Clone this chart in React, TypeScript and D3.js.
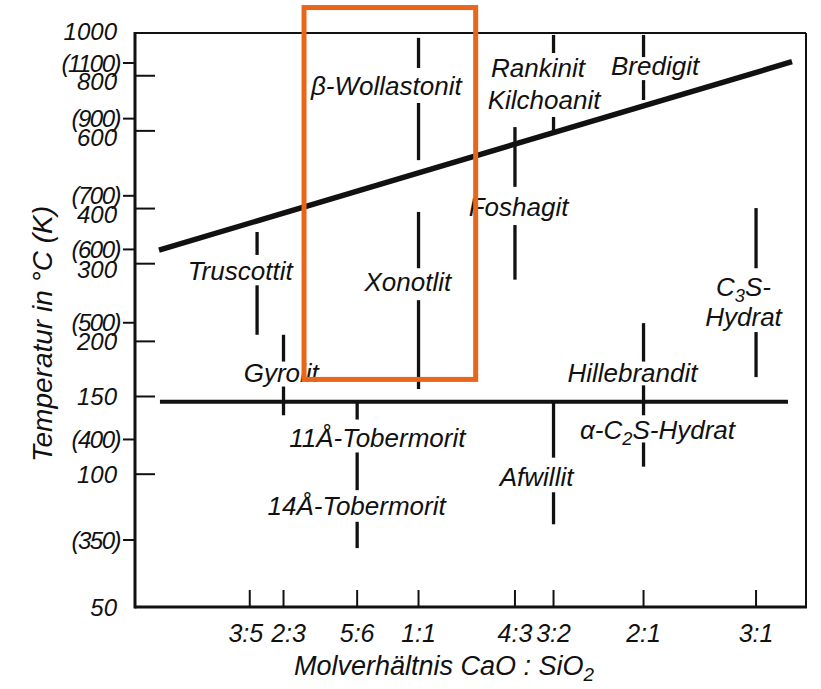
import React from 'react';
import * as d3 from 'd3';

// ---------- data ----------
const celsiusTicks = [1000, 800, 600, 400, 300, 200, 150, 100, 50];
const kelvinTicks = [1100, 900, 700, 600, 500, 400, 350];
const ratioLabels = ['3:5', '2:3', '5:6', '1:1', '4:3', '3:2', '2:1', '3:1'];
const ratioValues = [3 / 5, 2 / 3, 5 / 6, 1, 4 / 3, 3 / 2, 2, 3];

// vertical existence lines: ratio CaO:SiO2, segments [T_top, T_bottom] in °C
const phaseLines = [
  { phase: 'Truscottit', ratio: 0.614, segments: [[354, 314], [268, 207]] },
  { phase: 'Gyrolit', ratio: 2 / 3, segments: [[207, 180], [158, 136]] },
  { phase: 'Tobermorit', ratio: 5 / 6, segments: [[146, 133], [112, 92], [78, 68]] },
  { phase: 'Wollastonit/Xonotlit', ratio: 1, segments: [[975, 833], [694, 515], [393, 293], [248, 156]] },
  { phase: 'Foshagit', ratio: 4 / 3, segments: [[612, 448], [367, 276]] },
  { phase: 'Rankinit/Kilchoanit', ratio: 3 / 2, segments: [[990, 901], [645, 593]] },
  { phase: 'Afwillit', ratio: 3 / 2, segments: [[145, 109], [91, 77]] },
  { phase: 'Bredigit', ratio: 2, segments: [[990, 882], [782, 705]] },
  { phase: 'Hillebrandit', ratio: 2, segments: [[220, 180], [159, 136], [118, 104]] },
  { phase: 'C3S-Hydrat', ratio: 3, segments: [[401, 293], [210, 166]] },
];

// labels: "_n" = subscript digit
const phaseLabels = [
  { text: 'β-Wollastonit', ratio: 0.909, temp: 760 },
  { text: 'Xonotlit', ratio: 0.969, temp: 273 },
  { text: 'Truscottit', ratio: 0.582, temp: 290 },
  { text: 'Gyrolit', ratio: 0.662, temp: 170 },
  { text: '11Å-Tobermorit', ratio: 0.885, temp: 121 },
  { text: '14Å-Tobermorit', ratio: 0.832, temp: 85 },
  { text: 'Rankinit', ratio: 1.43, temp: 835 },
  { text: 'Kilchoanit', ratio: 1.457, temp: 705 },
  { text: 'Bredigit', ratio: 2.079, temp: 842 },
  { text: 'Foshagit', ratio: 1.348, temp: 403 },
  { text: 'C_3S-', ratio: 2.857, temp: 266 },
  { text: 'Hydrat', ratio: 2.857, temp: 228 },
  { text: 'Hillebrandit', ratio: 1.928, temp: 170 },
  { text: 'α-C_2S-Hydrat', ratio: 2.096, temp: 126 },
  { text: 'Afwillit', ratio: 1.424, temp: 98.6 },
];

// phase boundaries: [ratio, °C]
const upperBoundary = [[0.4446, 322], [3.477, 861]];
const lowerBoundary = [[0.4461, 146], [3.418, 146]];

// highlighted region (ratio range, °C range)
const highlightRatio = [0.71, 1.185];
const highlightTemp = [164, 1142];

// ---------- scales ----------
const frac = (r: number) => r / (1 + r);
const x = d3.scaleLinear().domain([0.29, 0.787]).range([135, 806]);
const xr = (r: number) => x(frac(r));
const y = d3.scaleLog().domain([50, 1000]).range([607, 33]);
const kScale = d3.scaleLog().domain([1100 - 273, 350 - 273]).range([63, 540]);
const yK = (k: number) => kScale(k - 273);

const FONT = "'Liberation Sans', Arial, sans-serif";
const INK = '#111';

function RichText({ text, fontSize }: { text: string; fontSize: number }) {
  const parts: React.ReactNode[] = [];
  let buf = '';
  let i = 0;
  let key = 0;
  let shifted = false;
  const sh = Math.round(fontSize * 0.24);
  while (i < text.length) {
    if (text[i] === '_' && i + 1 < text.length) {
      if (buf) parts.push(<tspan key={key++} dy={shifted ? -sh : undefined}>{buf}</tspan>);
      buf = '';
      parts.push(
        <tspan key={key++} dy={sh} fontSize={fontSize * 0.7}>
          {text[i + 1]}
        </tspan>
      );
      shifted = true;
      i += 2;
      continue;
    }
    buf += text[i];
    i++;
  }
  if (buf) parts.push(<tspan key={key++} dy={shifted ? -sh : undefined}>{buf}</tspan>);
  return <>{parts}</>;
}

export default function App() {
  const line = d3
    .line<number[]>()
    .x((d) => xr(d[0]))
    .y((d) => y(d[1]));

  const x0 = 135, x1 = 806, y0 = 33, y1 = 607;
  const celsiusNudge = (v: number) => (v >= 300 && v <= 800 ? 6 : v === 1000 ? -2 : 0);
  const ratioNudge: Record<string, number> = { '3:5': -4, '2:3': 5 };
  // baseline offset so that the middle of the capitals sits on the anchor
  const mid = (fs: number) => fs * 0.36;

  return (
    <svg
      width={821}
      height={689}
      style={{ position: 'absolute', left: 0, top: 0, background: '#fff' }}
      fontFamily={FONT}
      fontStyle="italic"
    >
      <rect x={0} y={0} width={821} height={689} fill="#fff" />

      {/* frame */}
      <line x1={x0} y1={y0} x2={x1} y2={y0} stroke={INK} strokeWidth={2} />
      <line x1={x1} y1={y0} x2={x1} y2={y1} stroke={INK} strokeWidth={2} />
      <line x1={x0} y1={y0 - 1} x2={x0} y2={y1 + 1.5} stroke={INK} strokeWidth={3} />
      <line x1={x0} y1={y1} x2={x1 + 1} y2={y1} stroke={INK} strokeWidth={3} />

      {/* celsius ticks (inside) */}
      {celsiusTicks.map((v) => (
        <g key={'c' + v}>
          {v !== 1000 && v !== 50 && (
            <line x1={x0} x2={x0 + 20} y1={y(v)} y2={y(v)} stroke={INK} strokeWidth={2} />
          )}
          <text
            x={117}
            y={y(v) + celsiusNudge(v) + mid(24)}
            textAnchor="end"
            fontSize={24}
            fill={INK}
          >
            {v}
          </text>
        </g>
      ))}

      {/* kelvin ticks (outside) */}
      {kelvinTicks.map((k) => (
        <g key={'k' + k}>
          <line x1={x0 - 12} x2={x0} y1={yK(k)} y2={yK(k)} stroke={INK} strokeWidth={2} />
          <text
            x={120}
            y={yK(k) + mid(24)}
            textAnchor="end"
            fontSize={24}
            letterSpacing={-1.5}
            fill={INK}
          >
            ({k})
          </text>
        </g>
      ))}

      {/* x ticks */}
      {ratioValues.map((r, i) => (
        <g key={'x' + i}>
          <line x1={xr(r)} x2={xr(r)} y1={y1} y2={y1 - 17} stroke={INK} strokeWidth={2} />
          <text
            x={xr(r) + (ratioNudge[ratioLabels[i]] || 0)}
            y={633 + mid(25)}
            textAnchor="middle"
            fontSize={25}
            fill={INK}
          >
            {ratioLabels[i]}
          </text>
        </g>
      ))}

      {/* axis titles */}
      <text x={444} y={665 + mid(27)} textAnchor="middle" fontSize={27} fill={INK}>
        <RichText text={'Molverhältnis  CaO : SiO_2'} fontSize={27} />
      </text>
      <text
        transform={`translate(42,334) rotate(-90)`}
        y={mid(28)}
        textAnchor="middle"
        fontSize={28}
        fill={INK}
      >
        Temperatur in °C (K)
      </text>

      {/* phase boundaries */}
      <path d={line(upperBoundary) || ''} stroke={INK} strokeWidth={5.5} fill="none" />
      <path d={line(lowerBoundary) || ''} stroke={INK} strokeWidth={4} fill="none" />

      {/* existence lines */}
      {phaseLines.map((p) =>
        p.segments.map((s, j) => (
          <line
            key={p.phase + j}
            x1={xr(p.ratio)}
            x2={xr(p.ratio)}
            y1={y(s[0])}
            y2={y(s[1])}
            stroke={INK}
            strokeWidth={3.3}
          />
        ))
      )}

      {/* phase labels */}
      {phaseLabels.map((l) => (
        <text
          key={l.text}
          x={xr(l.ratio)}
          y={y(l.temp) + mid(26)}
          textAnchor="middle"
          fontSize={26}
          fill={INK}
        >
          <RichText text={l.text} fontSize={26} />
        </text>
      ))}

      {/* highlight box */}
      <rect
        x={xr(highlightRatio[0])}
        y={y(highlightTemp[1])}
        width={xr(highlightRatio[1]) - xr(highlightRatio[0])}
        height={y(highlightTemp[0]) - y(highlightTemp[1])}
        fill="none"
        stroke="#E8661A"
        strokeWidth={5}
      />
    </svg>
  );
}
